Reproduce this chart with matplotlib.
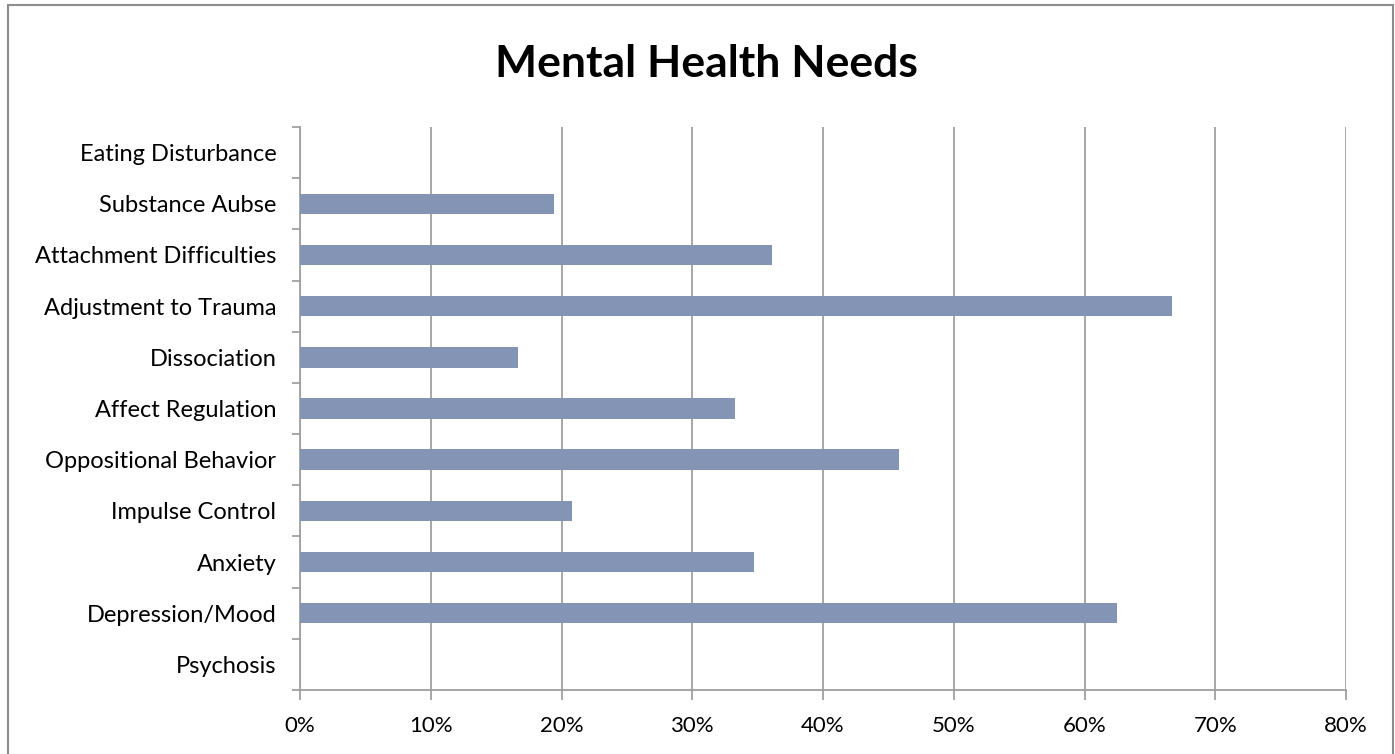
import matplotlib
matplotlib.use("Agg")
import matplotlib.pyplot as plt
from matplotlib.patches import Rectangle
from matplotlib.ticker import FixedLocator, PercentFormatter
import numpy as np

categories = ["Psychosis", "Depression/Mood", "Anxiety", "Impulse Control",
              "Oppositional Behavior", "Affect Regulation", "Dissociation",
              "Adjustment to Trauma", "Attachment Difficulties",
              "Substance Aubse", "Eating Disturbance"]
values = [0.0, 62.5, 34.7, 20.8, 45.8, 33.3, 16.7, 66.7, 36.1, 19.4, 0.0]
xticks = [0, 10, 20, 30, 40, 50, 60, 70, 80]
title = "Mental Health Needs"

plt.rcParams['font.family'] = ['Lato', 'DejaVu Sans']

fig = plt.figure(figsize=(13.95, 7.54), dpi=100)
fig.patches.append(Rectangle((8/1395, -0.01), (1393-8)/1395, 1 - 5/754 + 0.01,
                             transform=fig.transFigure, fill=False,
                             edgecolor="#8c8c8c", linewidth=1.5))
ax = fig.add_axes([300/1395, 1 - 690/754, (1346-300)/1395, (690-127)/754])

y = np.arange(len(categories))
ax.barh(y, values, height=0.4, color="#8494b5", zorder=3)
ax.set_xlim(0, 80)
ax.set_ylim(-0.5, len(categories) - 0.5)
ax.set_xticks(xticks)
ax.xaxis.set_major_formatter(PercentFormatter(decimals=0))
ax.set_yticks(y)
ax.set_yticklabels(categories)
ax.yaxis.set_minor_locator(FixedLocator(np.arange(-0.5, len(categories), 1.0)))
ax.tick_params(axis='y', which='major', length=0, pad=17, labelsize=17)
ax.tick_params(axis='y', which='minor', length=6, width=1.3, color="#a0a0a0")
ax.tick_params(axis='x', length=7, width=1.3, color="#a0a0a0", labelsize=16, pad=12)
ax.grid(axis='x', color="#a0a0a0", linewidth=1.3, zorder=0)
for s in ["top", "right"]:
    ax.spines[s].set_visible(False)
for s in ["left", "bottom"]:
    ax.spines[s].set_color("#a0a0a0")
    ax.spines[s].set_linewidth(1.3)

fig.text(706/1395, 1 - 64/754, title, ha='center', va='center',
         fontsize=32, fontweight='bold')

fig.savefig("out.png", dpi=100)
